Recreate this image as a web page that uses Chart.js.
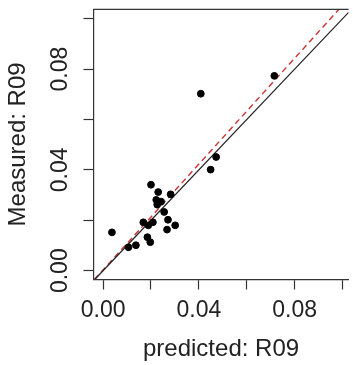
<!DOCTYPE html>
<html>
<head>
<meta charset="utf-8">
<script src="https://cdn.jsdelivr.net/npm/chart.js@4"></script>
<style>
  html, body { margin: 0; padding: 0; background: #fff; overflow: hidden; }
  #wrap { width: 353px; height: 365px; }
</style>
</head>
<body>
<div id="wrap"><canvas id="scatter-chart"></canvas></div>
<script>
// Valores predichos y medidos (R09)
const predicted = [0.0715, 0.0408, 0.0472, 0.0449, 0.0037, 0.0106, 0.0137, 0.0200, 0.0230, 0.0222, 0.0242,
                   0.0226, 0.0282, 0.0255, 0.0168, 0.0189, 0.0208, 0.0271, 0.0301, 0.0267, 0.0185, 0.0197];
const measured  = [0.0773, 0.0702, 0.0451, 0.0401, 0.0152, 0.0093, 0.0101, 0.0341, 0.0312, 0.0281, 0.0274,
                   0.0262, 0.0303, 0.0233, 0.0192, 0.0180, 0.0192, 0.0202, 0.0180, 0.0163, 0.0133, 0.0113];

// Marcas de los ejes y etiquetas visibles
const tickValues = [0, 0.02, 0.04, 0.06, 0.08, 0.10];
const tickLabels = ['0.00', '', '0.04', '', '0.08', ''];

// Rango de los ejes
const xRange = [-0.0040, 0.1025];
const yRange = [-0.0035, 0.1037];

// Recta 1:1 y recta ajustada (pendiente, intercepto)
const identity = { slope: 1, intercept: 0 };
const fitLine = { slope: 1.05, intercept: 0.0003 };

function lineEnds(l) {
  const x0 = Math.max(xRange[0], (yRange[0] - l.intercept) / l.slope);
  const x1 = Math.min(xRange[1], (yRange[1] - l.intercept) / l.slope);
  return [x0, x1].map(x => ({ x: x, y: l.slope * x + l.intercept }));
}

const points = predicted.map((p, i) => ({ x: p, y: measured[i] }));

// Marco superior del área de trazado
const boxPlugin = {
  id: 'box',
  afterDraw(chart) {
    const { ctx, chartArea: a } = chart;
    ctx.save();
    ctx.strokeStyle = '#333';
    ctx.lineWidth = 1.2;
    ctx.beginPath();
    ctx.moveTo(a.left, a.top);
    ctx.lineTo(a.right, a.top);
    ctx.stroke();
    ctx.restore();
  }
};

const tickFont = { family: '"Liberation Sans", Arial, sans-serif', size: 23 };
const titleFont = { family: '"Liberation Sans", Arial, sans-serif', size: 24 };

new Chart(document.getElementById('scatter-chart'), {
  type: 'scatter',
  data: {
    datasets: [
      {
        data: lineEnds(fitLine),
        showLine: true,
        borderColor: '#cc3333',
        borderWidth: 1.4,
        borderDash: [6, 4],
        pointRadius: 0,
        order: 2
      },
      {
        data: lineEnds(identity),
        showLine: true,
        borderColor: '#222',
        borderWidth: 1.2,
        pointRadius: 0,
        order: 1
      },
      {
        data: points,
        backgroundColor: '#000',
        borderColor: '#000',
        pointRadius: 3.4,
        pointHoverRadius: 3.4,
        order: 0
      }
    ]
  },
  options: {
    responsive: true,
    maintainAspectRatio: false,
    animation: false,
    events: [],
    layout: { padding: { top: 9.3, right: 0, bottom: 0, left: 0 } },
    plugins: {
      legend: { display: false },
      tooltip: { enabled: false }
    },
    scales: {
      x: {
        type: 'linear',
        min: xRange[0],
        max: xRange[1],
        afterBuildTicks: s => { s.ticks = tickValues.map(v => ({ value: v })); },
        afterFit: s => { s.height = 85.5; s.paddingLeft = 0; s.paddingRight = 0; },
        ticks: {
          callback: (v, i) => tickLabels[i],
          color: '#222',
          font: tickFont,
          padding: 7,
          maxRotation: 0,
          autoSkip: false
        },
        grid: { drawOnChartArea: false, tickLength: 10, tickColor: '#333', tickWidth: 1.2 },
        border: { display: true, color: '#333', width: 1.2 },
        title: {
          display: true,
          text: 'predicted: R09',
          color: '#222',
          font: titleFont,
          padding: { top: 0, bottom: 1 }
        }
      },
      y: {
        type: 'linear',
        min: yRange[0],
        max: yRange[1],
        afterBuildTicks: s => { s.ticks = tickValues.map(v => ({ value: v })); },
        afterFit: s => { s.width = 93.5; s.paddingTop = 0; s.paddingBottom = 0; },
        ticks: {
          callback: (v, i) => tickLabels[i],
          color: '#222',
          font: tickFont,
          padding: 0,
          minRotation: 90,
          maxRotation: 90,
          crossAlign: 'center',
          autoSkip: false
        },
        grid: { drawOnChartArea: false, tickLength: 10, tickColor: '#333', tickWidth: 1.2 },
        border: { display: true, color: '#333', width: 1.2 },
        title: {
          display: true,
          text: 'Measured: R09',
          color: '#222',
          font: titleFont,
          padding: { top: 4, bottom: 0 }
        }
      }
    }
  },
  plugins: [boxPlugin]
});
</script>
</body>
</html>
